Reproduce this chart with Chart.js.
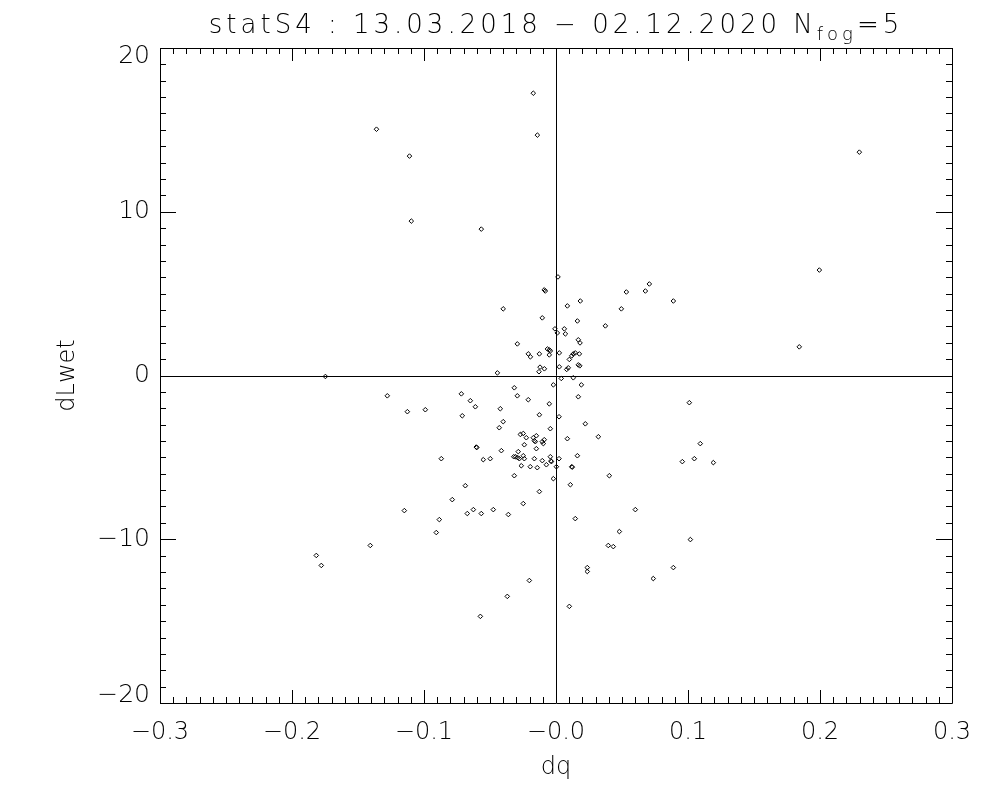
<!DOCTYPE html>
<html>
<head>
<meta charset="utf-8">
<script src="https://cdn.jsdelivr.net/npm/chart.js@4.4.0/dist/chart.umd.min.js"></script>
<style>
  body { margin: 0; background: #fff; }
  #wrap { width: 1000px; height: 800px; }
</style>
</head>
<body>
<div id="wrap"><canvas id="MyChart" width="1000" height="800"></canvas></div>
<script>
// values
const dq = [
  -0.0172, -0.136, -0.0141, -0.111, -0.1096, -0.0566, 0.0015, -0.0089, -0.0081, -0.040,
  -0.0104, -0.0008, -0.0293, -0.021, -0.0194, -0.0126, -0.0065, -0.0051, -0.0043, -0.0051,
  -0.0121, -0.0088, -0.0129, -0.0444, -0.1747, 0.2298, 0.1995, 0.0707, 0.0677, 0.0533,
  0.0184, 0.0889, 0.0086, 0.0495, 0.0162, 0.0374, 0.001, 0.0063, 0.0071, 0.0169,
  0.0182, 0.1843, 0.0025, 0.0146, 0.0131, 0.0177, 0.0119, 0.0101, 0.0169, 0.018,
  0.0025, 0.0093, 0.0081, 0.004, 0.0131, -0.002, -0.0316, -0.1278, -0.0717, -0.0293,
  -0.021, -0.0649, -0.0611, -0.0051, -0.1126, -0.099, -0.0422, -0.071, -0.0126, 0.0023,
  -0.040, -0.043, -0.0043, -0.027, -0.0248, -0.0225, -0.0172, -0.0149, -0.0164, -0.0157,
  -0.0104, -0.0089, -0.0096, -0.024, -0.0604, -0.0600, -0.0149, -0.0414, -0.0286, -0.0306,
  -0.029, -0.0278, -0.032, -0.0248, -0.024, -0.0164, -0.0104, -0.0043, -0.0035, -0.0038,
  -0.0073, 0.0023, 0.0003, -0.0869, -0.0551, -0.0498, -0.0263, -0.0195, -0.0142, -0.0316,
  -0.002, -0.0126, -0.0687, -0.0786, -0.0248, -0.1149, -0.0672, -0.0626, -0.0566, -0.0475,
  -0.0361, -0.0884, -0.0907, -0.1407, -0.1816, -0.1778, -0.0202, -0.0369, -0.0573, 0.0192,
  0.0169, 0.101, 0.0222, 0.0321, 0.0086, 0.1093, 0.0162, 0.0957, 0.1048, 0.1192,
  0.0119, 0.0123, 0.0109, 0.0404, 0.0601, 0.0146, 0.048, 0.0396, 0.0434, 0.1018,
  0.0237, 0.0237, 0.0889, 0.0737, 0.0101
];
const dLwet = [
  17.24, 15.04, 14.68, 13.40, 9.43, 8.94, 6.02, 5.23, 5.16, 4.07,
  3.52, 2.85, 1.93, 1.32, 1.14, 1.32, 1.62, 1.57, 1.50, 1.26,
  0.51, 0.41, 0.23, 0.16, -0.06, 13.64, 6.44, 5.59, 5.16, 5.10,
  4.55, 4.55, 4.25, 4.07, 3.33, 3.03, 2.60, 2.85, 2.54, 2.18,
  1.99, 1.75, 1.38, 1.38, 1.32, 1.32, 1.20, 0.98, 0.65, 0.59,
  0.53, 0.47, 0.37, -0.18, -0.14, -0.57, -0.75, -1.24, -1.12, -1.24,
  -1.48, -1.54, -1.91, -1.73, -2.21, -2.09, -2.03, -2.46, -2.40, -2.52,
  -2.82, -3.19, -3.25, -3.60, -3.54, -3.80, -3.80, -3.68, -3.98, -4.04,
  -4.04, -3.92, -4.16, -4.23, -4.37, -4.40, -4.47, -4.59, -4.65, -4.96,
  -5.02, -5.08, -4.96, -4.90, -5.08, -5.08, -5.20, -4.96, -5.26, -5.22,
  -5.45, -5.08, -5.57, -5.08, -5.14, -5.08, -5.51, -5.57, -5.63, -6.12,
  -6.30, -7.09, -6.73, -7.58, -7.82, -8.25, -8.43, -8.19, -8.43, -8.19,
  -8.49, -8.80, -9.59, -10.38, -10.99, -11.60, -12.52, -13.49, -14.71, -0.57,
  -1.30, -1.66, -2.95, -3.74, -3.86, -4.16, -4.90, -5.26, -5.08, -5.32,
  -5.57, -5.60, -6.67, -6.12, -8.19, -8.74, -9.53, -10.38, -10.45, -10.02,
  -11.73, -11.97, -11.73, -12.40, -14.10
];
const xTickLabels = ['\u22120.3', '\u22120.2', '\u22120.1', '\u22120.0', '0.1', '0.2', '0.3'];
const yTickLabels = ['\u221220', '\u221210', '0', '10', '20'];
const titleMain = 'statS4 : 13.03.2018 \u2212 02.12.2020 N';
const titleSub = 'fog';
const titleEnd = '=5';

const FONT = "'DejaVu Sans', sans-serif";

// IDL style box: inward ticks on all four sides, zero lines, subscript title
const idlFrame = {
  id: 'idlFrame',
  afterDraw(chart) {
    const { ctx, chartArea: a, scales: { x, y } } = chart;
    ctx.save();
    ctx.strokeStyle = '#000';
    ctx.lineWidth = 1;
    ctx.beginPath();
    ctx.rect(a.left + 0.5, a.top + 0.5, a.right - a.left, a.bottom - a.top);
    // zero lines
    const x0 = Math.round(x.getPixelForValue(0)) + 0.5;
    const y0 = Math.round(y.getPixelForValue(0)) + 0.5;
    ctx.moveTo(x0, a.top); ctx.lineTo(x0, a.bottom);
    ctx.moveTo(a.left, y0); ctx.lineTo(a.right, y0);
    // x ticks, minor every 0.01
    for (let i = -30; i <= 30; i++) {
      const px = Math.round(x.getPixelForValue(i / 100)) + 0.5;
      const len = i % 10 === 0 ? 13 : 6;
      ctx.moveTo(px, a.bottom); ctx.lineTo(px, a.bottom - len);
      ctx.moveTo(px, a.top); ctx.lineTo(px, a.top + len);
    }
    // y ticks, minor every 1
    for (let v = -20; v <= 20; v++) {
      const py = Math.round(y.getPixelForValue(v)) + 0.5;
      const len = v % 10 === 0 ? 16 : 6;
      ctx.moveTo(a.left, py); ctx.lineTo(a.left + len, py);
      ctx.moveTo(a.right, py); ctx.lineTo(a.right - len, py);
    }
    ctx.stroke();

    // title with subscript
    ctx.fillStyle = '#000';
    ctx.textBaseline = 'alphabetic';
    ctx.letterSpacing = '4px';
    ctx.font = '200 26px ' + FONT;
    const w1 = ctx.measureText(titleMain).width;
    const w3 = ctx.measureText(titleEnd).width;
    ctx.font = '200 18px ' + FONT;
    const w2 = ctx.measureText(titleSub).width;
    let tx = (a.left + a.right) / 2 - (w1 + w2 + w3) / 2;
    const ty = 33;
    ctx.font = '200 26px ' + FONT;
    ctx.fillText(titleMain, tx, ty);
    tx += w1;
    ctx.font = '200 18px ' + FONT;
    ctx.fillText(titleSub, tx, ty + 7);
    tx += w2;
    ctx.font = '200 26px ' + FONT;
    ctx.fillText(titleEnd, tx, ty);
    ctx.restore();
  }
};

// end labels of the y axis sit inside the range, like IDL draws them
const yLabel = (v, i) => {
  if (i === yTickLabels.length - 1) return ['', yTickLabels[i]];
  if (i === 0) return [yTickLabels[i], ''];
  return yTickLabels[i];
};

const GraphData = {
  type: 'scatter',
  data: {
    datasets: [
      {
        data: dq.map((v, i) => ({ x: v, y: dLwet[i] })),
        pointStyle: 'rectRot',
        pointRadius: 2.3,
        pointBorderWidth: 1,
        pointBorderColor: '#000',
        pointBackgroundColor: 'rgba(0,0,0,0)',
      },
    ],
  },
  options: {
    responsive: false,
    animation: false,
    layout: { padding: { top: 48, right: 48, left: 0, bottom: 0 } },
    plugins: {
      legend: { display: false },
      tooltip: { enabled: false },
    },
    scales: {
      x: {
        type: 'linear',
        min: -0.3,
        max: 0.3,
        afterFit: (s) => { s.height = 97; },
        grid: { display: false, drawTicks: false },
        border: { display: false },
        ticks: {
          stepSize: 0.1,
          padding: 15,
          color: '#000',
          font: { family: FONT, size: 24, weight: '200' },
          callback: (v, i) => xTickLabels[i],
        },
        title: {
          display: true,
          text: 'dq',
          color: '#000',
          font: { family: FONT, size: 24, weight: '200' },
          padding: { bottom: 18 },
        },
      },
      y: {
        type: 'linear',
        min: -20,
        max: 20,
        afterFit: (s) => { s.width = 160; },
        grid: { display: false, drawTicks: false },
        border: { display: false },
        ticks: {
          stepSize: 10,
          padding: 10,
          color: '#000',
          font: (c) => ({
            family: FONT, size: 25, weight: '200',
            lineHeight: (c.index === 0 || c.index === yTickLabels.length - 1) ? '16px' : 1.2,
          }),
          callback: yLabel,
        },
        title: {
          display: true,
          text: 'dLwet',
          color: '#000',
          font: { family: FONT, size: 24, weight: '200' },
          padding: { top: 53 },
        },
      },
    },
  },
  plugins: [idlFrame],
};

new Chart('MyChart', GraphData);
</script>
</body>
</html>
